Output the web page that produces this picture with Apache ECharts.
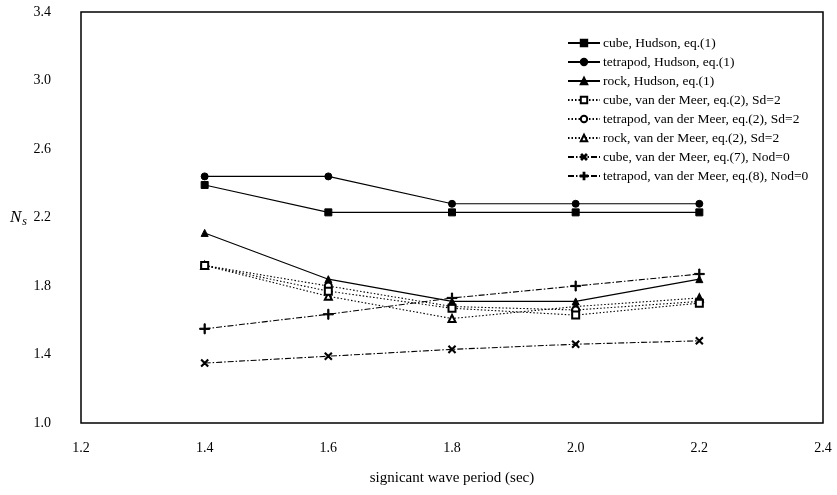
<!DOCTYPE html>
<html><head><meta charset="utf-8">
<script src="https://cdn.jsdelivr.net/npm/echarts@6/dist/echarts.min.js"></script>
<style>html,body{margin:0;padding:0;background:#fff}#c{width:837px;height:495px}</style>
</head><body><div id="c"></div>
<script>
const periods = [1.4, 1.6, 1.8, 2.0, 2.2];
const cubeHudson = [2.39, 2.23, 2.23, 2.23, 2.23];
const tetraHudson = [2.44, 2.44, 2.28, 2.28, 2.28];
const rockHudson = [2.11, 1.84, 1.71, 1.71, 1.84];
const cubeVdM2 = [1.92, 1.77, 1.67, 1.63, 1.70];
const tetraVdM2 = [1.92, 1.80, 1.68, 1.66, 1.71];
const rockVdM2 = [1.92, 1.74, 1.61, 1.68, 1.73];
const cubeVdM7 = [1.35, 1.39, 1.43, 1.46, 1.48];
const tetraVdM8 = [1.55, 1.635, 1.73, 1.80, 1.87];
const names = [
  'cube, Hudson, eq.(1)',
  'tetrapod, Hudson, eq.(1)',
  'rock, Hudson, eq.(1)',
  'cube, van der Meer, eq.(2), Sd=2',
  'tetrapod, van der Meer, eq.(2), Sd=2',
  'rock, van der Meer, eq.(2), Sd=2',
  'cube, van der Meer, eq.(7), Nod=0',
  'tetrapod, van der Meer, eq.(8), Nod=0'
];
const plusPath = 'path://M4.4,0H5.6V4.4H10V5.6H5.6V10H4.4V5.6H0V4.4H4.4Z';
const seriesData = [cubeHudson, tetraHudson, rockHudson, cubeVdM2, tetraVdM2, rockVdM2, cubeVdM7, tetraVdM8];
const symbols = ['rect','circle','triangle','emptyRect','emptyCircle','emptyTriangle',plusPath,plusPath];
const symbolSizes = [7,7,7,7,7,7,9,10];
const rotates = [0,0,0,0,0,0,45,0];
const dashes = ['solid','solid','solid',[1.5,2],[1.5,2],[1.5,2],[6,2,1.5,2],[6,2,1.5,2]];
const font = 'Liberation Serif';
const chart = echarts.init(document.getElementById('c'));
chart.setOption({
  animation: false,
  backgroundColor: '#fff',
  grid: {left: 81, right: 14, top: 12, bottom: 72, show: true, borderColor: '#000', borderWidth: 1.5, backgroundColor: 'transparent'},
  legend: {
    orient: 'vertical', left: 562, top: 31, itemWidth: 32, itemHeight: 8, itemGap: 5,
    textStyle: {fontFamily: font, fontSize: 13.5, color: '#000', padding: [0,0,0,-2]},
    data: names
  },
  xAxis: {
    type: 'value', min: 1.2, max: 2.4, interval: 0.2,
    name: 'signicant wave period (sec)', nameLocation: 'middle', nameGap: 48,
    nameTextStyle: {fontFamily: font, fontSize: 15, color: '#000'},
    axisLine: {show: false}, axisTick: {show: false}, splitLine: {show: false},
    axisLabel: {fontFamily: font, fontSize: 14, color: '#000', margin: 18, formatter: v => v.toFixed(1)}
  },
  yAxis: {
    type: 'value', min: 1.0, max: 3.4, interval: 0.4,
    name: '{i|N}{s|s}', nameLocation: 'middle', nameRotate: 0, nameGap: 54,
    nameTextStyle: {rich: {i: {fontFamily: font, fontStyle: 'italic', fontSize: 17, color: '#000'}, s: {fontFamily: font, fontStyle: 'italic', fontSize: 12, color: '#000', verticalAlign: 'bottom', padding: [8,0,0,1]}}},
    axisLine: {show: false}, axisTick: {show: false}, splitLine: {show: false},
    axisLabel: {fontFamily: font, fontSize: 14, color: '#000', margin: 30, formatter: v => v.toFixed(1)}
  },
  series: names.map((n, i) => ({
    name: n, type: 'line',
    data: periods.map((p, j) => [p, seriesData[i][j]]),
    symbol: symbols[i], symbolSize: symbolSizes[i], symbolRotate: rotates[i], showAllSymbol: true,
    itemStyle: {color: '#000', borderColor: '#000', borderWidth: 1},
    lineStyle: {color: '#000', width: 1.1, type: dashes[i]},
    z: 10 - i
  }))
});
</script></body></html>
